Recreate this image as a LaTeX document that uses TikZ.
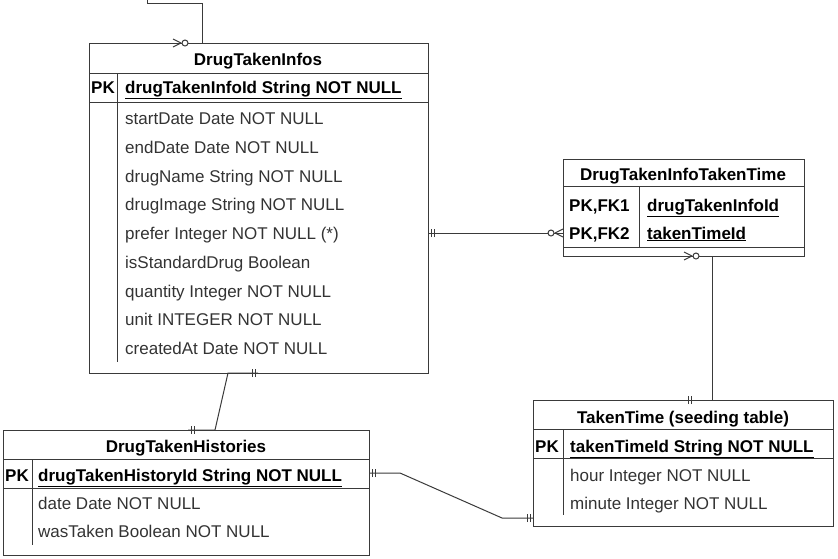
\documentclass[tikz,border=0pt]{standalone}
\usepackage{fontspec}
\setmainfont{Liberation Sans}
\usetikzlibrary{positioning,decorations.markings}

\definecolor{ln}{HTML}{3A3A3A}
\definecolor{txt}{HTML}{333333}

\tikzset{
  table/.style={draw=ln, line width=1pt, anchor=north west, inner sep=0pt, outer sep=0pt},
  rule/.style={draw=ln, line width=1pt},
  title/.style={font=\bfseries\fontsize{17}{20}\selectfont, anchor=base, inner sep=0pt},
  key/.style={font=\bfseries\fontsize{17}{20}\selectfont, anchor=base west, inner sep=0pt},
  attr/.style={font=\fontsize{17}{20}\selectfont, anchor=base west, inner sep=0pt, text=txt},
  link/.style={draw=ln, line width=1pt},
  one start/.style={postaction={decorate,decoration={markings,
    mark=at position 3pt with {\draw[link] (0,-4pt) -- (0,4pt);},
    mark=at position 6pt with {\draw[link] (0,-4pt) -- (0,4pt);}}}},
  one end/.style={postaction={decorate,decoration={markings,
    mark=at position -3pt with {\draw[link] (0,-4pt) -- (0,4pt);},
    mark=at position -6pt with {\draw[link] (0,-4pt) -- (0,4pt);}}}},
  many end/.style={postaction={decorate,decoration={markings,
    mark=at position 1 with {\draw[link] (-8pt,0) -- (0,4pt) (-8pt,0) -- (0,-4pt);
      \draw[link, fill=white] (-12pt,0) circle (3pt);}}}}
}

\begin{document}
\begin{tikzpicture}[x=1pt,y=-1pt]
\useasboundingbox (0,0) rectangle (838,558);

% tables
\node[table, minimum width=339, minimum height=330] (infos) at (89,43) {};
\node[table, minimum width=241, minimum height=97]  (link)  at (563,159) {};
\node[table, minimum width=300, minimum height=126] (taken) at (533,400) {};
\node[table, minimum width=366, minimum height=125] (hist)  at (3,430) {};

\draw[rule] (infos.north west) ++(0,30) -- ++(339,0) ++(-339,29) -- ++(339,0);
\draw[rule] (infos.north west) ++(28,30) -- ++(0,289);
\draw[rule] (link.north west) ++(0,27) -- ++(241,0) ++(-241,61) -- ++(241,0);
\draw[rule] (link.north west) ++(76,27) -- ++(0,61);
\draw[rule] (taken.north west) ++(0,29) -- ++(300,0) ++(-300,29) -- ++(300,0);
\draw[rule] (taken.north west) ++(30,29) -- ++(0,86);
\draw[rule] (hist.north west) ++(0,29) -- ++(366,0) ++(-366,29) -- ++(366,0);
\draw[rule] (hist.north west) ++(29,29) -- ++(0,86);

% DrugTakenInfos
\node[title] (infos-title) at (258,65)  {DrugTakenInfos};
\node[key]   (infos-pk)    at (91,93)   {PK};
\node[key]   (infos-id)    at (125,93)  {\underline{drugTakenInfoId String NOT NULL}};
\node[attr]  (infos-1)     at (125,124) {startDate Date NOT NULL};
\node[attr]  (infos-2)     at (125,153) {endDate Date NOT NULL};
\node[attr]  (infos-3)     at (125,182) {drugName String NOT NULL};
\node[attr]  (infos-4)     at (125,210) {drugImage String NOT NULL};
\node[attr]  (infos-5)     at (125,239) {prefer Integer NOT NULL (*)};
\node[attr]  (infos-6)     at (125,268) {isStandardDrug Boolean};
\node[attr]  (infos-7)     at (125,297) {quantity Integer NOT NULL};
\node[attr]  (infos-8)     at (125,325) {unit INTEGER NOT NULL};
\node[attr]  (infos-9)     at (125,354) {createdAt Date NOT NULL};

% DrugTakenInfoTakenTime
\node[title] (link-title)  at (683,180) {DrugTakenInfoTakenTime};
\node[key]   (link-pk1)    at (569,211) {PK,FK1};
\node[key]   (link-fk1)    at (647,211) {\underline{drugTakenInfoId}};
\node[key]   (link-pk2)    at (569,239) {PK,FK2};
\node[key]   (link-fk2)    at (647,239) {\underline{takenTimeId}};

% TakenTime
\node[title] (taken-title) at (683,423) {TakenTime (seeding table)};
\node[key]   (taken-pk)    at (535,452) {PK};
\node[key]   (taken-id)    at (570,452) {\underline{takenTimeId String NOT NULL}};
\node[attr]  (taken-1)     at (570,481) {hour Integer NOT NULL};
\node[attr]  (taken-2)     at (570,509) {minute Integer NOT NULL};

% DrugTakenHistories
\node[title] (hist-title)  at (186,452) {DrugTakenHistories};
\node[key]   (hist-pk)     at (5,481)   {PK};
\node[key]   (hist-id)     at (38,481)  {\underline{drugTakenHistoryId String NOT NULL}};
\node[attr]  (hist-1)      at (38,509)  {date Date NOT NULL};
\node[attr]  (hist-2)      at (38,537)  {wasTaken Boolean NOT NULL};

% relations
\coordinate (offpage) at (147,-3);
\draw[link, many end] (offpage) -- ++(0,6) -| ([xshift=113]infos.north west) -- ([xshift=84]infos.north west);
\draw[link, one start, many end] ([yshift=-190]infos.north east) -- ([yshift=-74]link.north west);
\draw[link, one start, many end] ([xshift=152]taken.north west) -- ([xshift=179]taken.north west)
  -- ([xshift=149]link.south west) -- ([xshift=121]link.south west);
\draw[link, one start, one end] ([xshift=169]infos.south west) -- ([xshift=139]infos.south west)
  -- ([xshift=212]hist.north west) -- ([xshift=185]hist.north west);
\draw[link, one start, one end] ([yshift=-43]hist.north east) -- ++(31,0)
  -- ([xshift=-31,yshift=8]taken.south west) -- ([yshift=8]taken.south west);
\end{tikzpicture}
\end{document}
